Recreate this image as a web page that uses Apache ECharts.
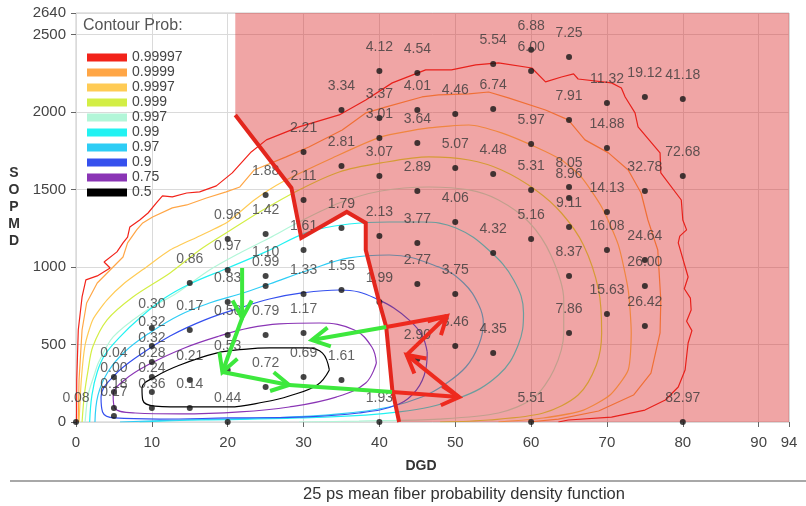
<!DOCTYPE html>
<html>
<head>
<meta charset="utf-8">
<script src="https://cdn.jsdelivr.net/npm/echarts@6/dist/echarts.min.js"></script>
<style>
  html, body { margin: 0; padding: 0; background: #ffffff; }
  #chart { width: 806px; height: 506px; }
</style>
</head>
<body>
<div id="chart"></div>
<script>
// ---- Contour levels (cumulative probability) and their colours ----
const levelNames  = ['0.99997', '0.9999', '0.9997', '0.999', '0.997', '0.99', '0.97', '0.9', '0.75', '0.5'];
const levelColors = ['#F2231A', '#FFA646', '#FFCB55', '#D3EE45', '#B2F6D8', '#22F2F2', '#2ECDF5', '#3550EE', '#8A35B5', '#000000'];

// Contour paths: [DGD (ps), SOPMD (ps^2)]
const contour99997 = [[0.07,0],[0.1,271],[0.3,594],[0.8,807],[1.3,917],[2.8,943],[4.5,994],[3.7,1033],[5.4,1098],[6.2,1156],[6.8,1194],[7.1,1259],[8.4,1304],[9.5,1349],[10.6,1414],[11.4,1459],[12.7,1453],[14.6,1478],[16.3,1485],[18.5,1524],[20.6,1608],[23.1,1743],[25.1,1821],[29.4,1905],[34.7,1982],[38.2,2079],[41.7,2189],[46.1,2273],[49.5,2273],[52.7,2305],[55.7,2318],[60.1,2285],[61.9,2195],[64.0,2227],[65.6,2247],[66.2,2214],[70.6,2189],[71.9,2156],[72.4,2098],[73.7,1995],[74.1,1905],[77.0,1737],[77.1,1608],[79.8,1433],[80.0,1304],[80.5,1240],[79.6,1200],[79.4,1156],[80.7,936],[80.2,860],[81.0,800],[81.1,723],[80.5,650],[81.2,590],[80.7,510],[80.3,336],[79.4,226],[77.7,142],[75.0,77],[70.6,32],[64.9,13],[63.6,0]];
const contour9999 = [[0.3,0],[0.4,271],[0.8,594],[1.4,768],[2.8,897],[4.5,981],[6.2,1065],[6.8,1156],[8.0,1240],[8.8,1285],[10.1,1323],[12.7,1382],[14.6,1401],[17.2,1446],[19.8,1485],[21.6,1517],[23.5,1627],[27.7,1711],[30.7,1775],[35.1,1885],[38.2,1995],[40.9,2034],[45.6,2098],[47.8,2111],[51.8,2118],[54.4,2130],[57.0,2092],[61.9,2014],[64.9,1950],[67.1,1821],[70.2,1737],[72.8,1627],[74.5,1478],[75.4,1304],[76.7,1110],[77.1,788],[77.0,575],[75.8,316],[73.5,174],[68.9,71],[63.6,19],[59.7,0]];
const contour9997 = [[0.4,0],[0.7,271],[1.2,497],[2.2,659],[4.1,788],[6.4,897],[9.3,1001],[12.4,1110],[16.3,1201],[20.0,1291],[23.5,1433],[27.2,1549],[33.8,1704],[40.2,1840],[46.5,1898],[51.8,1917],[56.1,1866],[60.6,1775],[64.0,1691],[66.6,1582],[69.3,1388],[71.5,1143],[72.8,852],[73.2,575],[72.8,336],[70.4,174],[66.9,77],[61.6,26],[55.7,0]];
const contour999 = [[0.8,0],[1.1,174],[1.6,336],[2.2,484],[4.1,659],[7.5,807],[12.4,962],[16.3,1110],[20.2,1233],[24.2,1356],[29.4,1498],[34.7,1614],[40.2,1672],[46.5,1711],[51.8,1691],[56.1,1627],[60.6,1498],[64.0,1349],[66.9,1143],[68.9,852],[69.3,575],[68.6,368],[66.2,174],[61.6,58],[54.4,13],[48.0,0]];
const contour997 = [[1.2,0],[1.6,174],[2.4,303],[3.0,387],[4.9,549],[8.8,704],[13.3,833],[17.6,981],[21.6,1091],[25.5,1188],[29.4,1291],[34.7,1414],[40.2,1491],[46.5,1517],[51.8,1498],[55.7,1433],[59.7,1291],[62.6,1078],[64.3,788],[64.3,575],[63.0,336],[60.3,155],[55.7,58],[47.8,19],[37.3,6],[29.4,0]];
const contour99 = [[1.8,0],[2.1,174],[2.8,323],[3.8,433],[5.8,549],[8.4,671],[11.7,800],[15.0,891],[20.0,994],[25.0,1098],[30.7,1227],[36.0,1278],[41.3,1291],[45.6,1291],[50.1,1252],[54.4,1110],[57.7,917],[59.0,704],[58.3,497],[55.7,303],[50.5,155],[42.6,65],[29.4,26],[16.3,13],[8.4,0]];
const contour97 = [[2.5,0],[2.9,174],[4.2,323],[6.4,452],[9.7,575],[13.7,691],[17.6,768],[21.6,826],[25.5,891],[30.7,981],[36.0,1059],[41.3,1078],[47.8,1001],[51.1,897],[53.1,755],[53.7,639],[53.1,497],[51.4,355],[48.5,239],[45.6,161],[41.3,97],[34.7,52],[25.5,26],[13.7,13],[5.8,0]];
const contour90 = [[46.3,452],[45.6,562],[43.9,659],[41.9,736],[39.9,788],[37.3,839],[34.7,852],[29.8,833],[25.5,794],[21.6,736],[17.0,659],[12.4,555],[8.4,433],[5.1,303],[3.3,161],[3.5,65],[5.1,26],[11.0,19],[20.2,26],[29.4,32],[37.3,58],[42.6,116],[44.9,207],[46.1,336],[46.3,452]];
const contour75 = [[39.6,381],[39.0,484],[36.7,594],[32.1,639],[26.8,633],[22.9,607],[18.9,555],[14.3,478],[9.7,374],[6.4,271],[4.9,174],[5.1,90],[7.8,58],[13.7,52],[21.6,65],[28.1,97],[34.3,161],[38.2,252],[39.6,381]];
const contour50 = [[33.4,336],[32.5,445],[30.4,478],[25.5,478],[22.5,471],[18.5,445],[13.7,368],[10.4,291],[8.7,220],[8.8,142],[10.4,103],[15.0,97],[20.2,97],[24.8,129],[28.1,168],[31.8,239],[33.4,336]];
const contourPaths = [contour99997, contour9999, contour9997, contour999, contour997, contour99, contour97, contour90, contour75, contour50];
const contourSmooth = [false, false, 0.2, 0.3, 0.3, 0.4, 0.4, 0.4, 0.4, 0.4];

// ---- Sampled grid points: DGD column, SOPMD rows, ratio shown above each point ----
const columnDGD = [0, 5, 10, 15, 20, 25, 30, 35, 40, 45, 50, 55, 60, 65, 70, 75, 80];
const columnSOPMD = [
  [0],
  [290, 194, 90, 39],
  [607, 491, 387, 290, 194, 90],
  [897, 594, 271, 90],
  [1181, 981, 775, 562, 336, 0],
  [1466, 1214, 943, 878, 562, 226],
  [1743, 1433, 1110, 826, 575, 290],
  [2014, 1653, 1252, 852, 271],
  [2266, 1963, 1833, 1588, 1201, 775, 0],
  [2253, 2014, 1801, 1491, 1156, 891, 407],
  [1988, 1640, 1291, 826, 491],
  [2311, 2021, 1601, 1091, 445],
  [2402, 2266, 1795, 1498, 1181, 0],
  [2356, 1950, 1517, 1446, 1259, 943, 575],
  [2059, 1769, 1356, 1110, 697],
  [2098, 1491, 1046, 878, 620],
  [2085, 1588, 0]
];
const columnRatio = [
  [0.08],
  [0.04, 0.00, 0.18, 0.17],
  [0.30, 0.32, 0.32, 0.28, 0.24, 0.36],
  [0.86, 0.17, 0.21, 0.14],
  [0.96, 0.97, 0.83, 0.56, 0.53, 0.44],
  [1.88, 1.42, 1.10, 0.99, 0.79, 0.72],
  [2.21, 2.11, 1.61, 1.33, 1.17, 0.69],
  [3.34, 2.81, 1.79, 1.55, 1.61],
  [4.12, 3.37, 3.01, 3.07, 2.13, 1.99, 1.93],
  [4.54, 4.01, 3.64, 2.89, 3.77, 2.77, 2.90],
  [4.46, 5.07, 4.06, 3.75, 3.46],
  [5.54, 6.74, 4.48, 4.32, 4.35],
  [6.88, 6.00, 5.97, 5.31, 5.16, 5.51],
  [7.25, 7.91, 8.05, 8.96, 9.11, 8.37, 7.86],
  [11.32, 14.88, 14.13, 16.08, 15.63],
  [19.12, 32.78, 24.64, 26.00, 26.42],
  [41.18, 72.68, 82.97]
];

// ---- Outage region (shaded) and its boundary ----
const regionDGD   = [21.0, 94, 94, 42.6, 41.7, 40.9, 39.9, 38.2, 38.2, 35.7, 29.7, 28.4, 21.0];
const regionSOPMD = [2640, 2640, 0, 0, 207, 613, 788, 1110, 1285, 1356, 1188, 1511, 1982];
const boundaryDGD   = [21.0, 28.4, 29.7, 35.7, 38.2, 38.2, 39.9, 40.9, 41.7, 42.6];
const boundarySOPMD = [1982, 1511, 1188, 1356, 1285, 1110, 788, 613, 207, 0];

// ---- Trajectory arrows: [DGD1, SOPMD1, DGD2, SOPMD2, inOutage (1 = red), arrowHead] ----
const pathSegments = [
  [21.9, 994, 21.9, 671, 0, 1],
  [21.9, 671, 19.3, 323, 0, 1],
  [19.3, 323, 28.1, 239, 0, 1],
  [28.1, 239, 41.7, 194, 0, 0],
  [41.7, 194, 50.5, 161, 1, 1],
  [50.5, 161, 43.6, 433, 1, 1],
  [43.6, 433, 48.9, 684, 1, 1],
  [48.9, 684, 40.9, 613, 1, 0],
  [40.9, 613, 31.1, 529, 0, 1]
];

// ---- Axis settings ----
const dgdMax = 94, dgdStep = 10;
const sopmdMax = 2640, sopmdStep = 500;

const REGULAR = '"Liberation Sans", Arial, sans-serif';

const pointData = [];
columnDGD.forEach((dgd, c) => {
  columnSOPMD[c].forEach((s, r) => pointData.push([dgd, s, columnRatio[c][r]]));
});

const contourSeries = levelNames.map((name, i) => ({
  name: name,
  type: 'line',
  data: contourPaths[i],
  color: levelColors[i],
  showSymbol: false,
  smooth: contourSmooth[i],
  lineStyle: { width: 1.2, color: levelColors[i] },
  z: 2,
  silent: true
}));

const chart = echarts.init(document.getElementById('chart'), null, { renderer: 'canvas' });

chart.setOption({
  animation: false,
  backgroundColor: '#ffffff',
  title: {
    text: 'Contour Prob:',
    left: 78, top: 12,
    textStyle: { fontFamily: REGULAR, fontSize: 16, fontWeight: 'normal', color: '#555555', lineHeight: 18 }
  },
  legend: {
    data: levelNames,
    orient: 'vertical',
    left: 82, top: 45,
    icon: 'rect',
    itemWidth: 40, itemHeight: 8, itemGap: 0, itemTextGap: 6,
    selectedMode: false,
    textStyle: { fontFamily: REGULAR, fontSize: 14, lineHeight: 15, color: '#444444' }
  },
  grid: {
    left: 76, right: 17, top: 13, bottom: 84,
    show: true, borderColor: '#c9c9c9', borderWidth: 1, backgroundColor: 'transparent'
  },
  xAxis: {
    type: 'value', min: 0, max: dgdMax, interval: dgdStep,
    axisLine: { show: false },
    axisTick: { show: true, length: 5, lineStyle: { color: '#666666' } },
    axisLabel: { margin: 13, color: '#444444', fontSize: 15, fontFamily: REGULAR, formatter: v => String(v) },
    splitLine: { show: true, lineStyle: { color: '#dadada', width: 1 } }
  },
  yAxis: {
    type: 'value', min: 0, max: sopmdMax, interval: sopmdStep,
    axisLine: { show: false },
    axisTick: { show: true, length: 5, lineStyle: { color: '#666666' } },
    axisLabel: { margin: 10, color: '#444444', fontSize: 15, fontFamily: REGULAR, formatter: v => String(v) },
    splitLine: { show: true, lineStyle: { color: '#dadada', width: 1 } }
  },
  series: contourSeries.concat([
    {
      name: 'region',
      type: 'custom',
      z: 3,
      silent: true,
      data: [0],
      renderItem: function (params, api) {
        return {
          type: 'polygon',
          shape: { points: regionDGD.map((x, i) => api.coord([x, regionSOPMD[i]])) },
          style: { fill: 'rgba(218, 30, 30, 0.40)' }
        };
      }
    },
    {
      name: 'points',
      type: 'scatter',
      z: 4,
      silent: true,
      data: pointData,
      symbol: 'circle',
      symbolSize: 6,
      clip: true,
      itemStyle: { color: '#151515' },
      label: {
        show: true,
        position: 'inside',
        offset: [0, -24],
        formatter: p => p.value[2].toFixed(2),
        fontFamily: REGULAR,
        fontSize: 14,
        color: '#3a3a3a'
      }
    },
    {
      name: 'boundary',
      type: 'line',
      z: 5,
      silent: true,
      showSymbol: false,
      data: boundaryDGD.map((x, i) => [x, boundarySOPMD[i]]),
      lineStyle: { width: 4, color: '#E3261D', join: 'miter' },
      color: '#E3261D'
    },
    {
      name: 'path',
      type: 'custom',
      z: 6,
      silent: true,
      data: pathSegments,
      renderItem: function (params, api) {
        const p1 = api.coord([api.value(0), api.value(1)]);
        const p2 = api.coord([api.value(2), api.value(3)]);
        const color = api.value(4) ? '#EE2A1E' : '#3DE83D';
        const children = [{
          type: 'line',
          shape: { x1: p1[0], y1: p1[1], x2: p2[0], y2: p2[1] },
          style: { stroke: color, lineWidth: 4, lineCap: 'butt' }
        }];
        if (api.value(5)) {
          const ang = Math.atan2(p2[1] - p1[1], p2[0] - p1[0]);
          const L = 20, a = 0.5;
          children.push({
            type: 'polyline',
            shape: { points: [
              [p2[0] - L * Math.cos(ang - a), p2[1] - L * Math.sin(ang - a)],
              [p2[0], p2[1]],
              [p2[0] - L * Math.cos(ang + a), p2[1] - L * Math.sin(ang + a)]
            ] },
            style: { stroke: color, lineWidth: 4, fill: null, lineJoin: 'miter' }
          });
        }
        return { type: 'group', children: children };
      }
    }
  ]),
  graphic: [
    {
      type: 'text', x: 14, y: 165,
      style: { text: 'S\nO\nP\nM\nD', font: 'bold 14px ' + REGULAR, lineHeight: 17, fill: '#333333', textAlign: 'center' }
    },
    {
      type: 'text', x: 421, y: 466,
      style: { text: 'DGD', font: 'bold 14px ' + REGULAR, fill: '#333333', textAlign: 'center', textVerticalAlign: 'middle' }
    },
    {
      type: 'line', shape: { x1: 10, y1: 481, x2: 806, y2: 481 },
      style: { stroke: '#a8a8a8', lineWidth: 2 }
    },
    {
      type: 'text', x: 464, y: 494,
      style: { text: '25 ps mean fiber probability density function', font: '16.5px ' + REGULAR, fill: '#333333', textAlign: 'center', textVerticalAlign: 'middle' }
    }
  ]
});
</script>
</body>
</html>
